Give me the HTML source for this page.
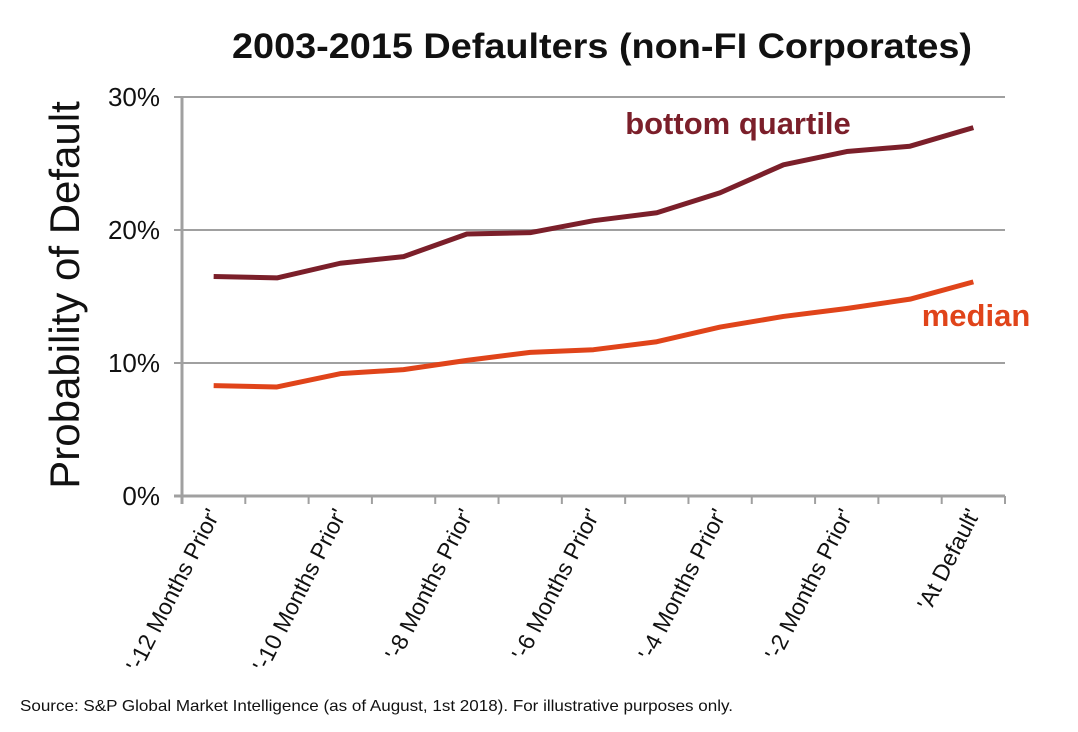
<!DOCTYPE html>
<html><head><meta charset="utf-8"><style>
body{margin:0;background:#fff;}
svg text{font-family:"Liberation Sans",sans-serif;}
</style></head><body>
<svg width="1078" height="727">
<text x="602" y="58" text-anchor="middle" font-size="35" font-weight="bold" fill="#111" textLength="740" lengthAdjust="spacingAndGlyphs">2003-2015 Defaulters (non-FI Corporates)</text>
<text transform="translate(79,295) rotate(-90)" text-anchor="middle" font-size="42" fill="#111">Probability of Default</text>
<g id="grid"></g><g id="lines"></g><g id="xl"></g>
<text x="738" y="134" text-anchor="middle" font-size="31" font-weight="bold" fill="#7b1f2a">bottom quartile</text>
<text x="976" y="326" text-anchor="middle" font-size="31" font-weight="bold" fill="#e0441a">median</text>
<text x="20" y="711" font-size="16" fill="#111" textLength="713" lengthAdjust="spacingAndGlyphs">Source: S&amp;P Global Market Intelligence (as of August, 1st 2018). For illustrative purposes only.</text>
</svg>
<script>
const categories=["'-12 Months Prior'","-11","'-10 Months Prior'","-9","'-8 Months Prior'","-7","'-6 Months Prior'","-5","'-4 Months Prior'","-3","'-2 Months Prior'","-1","'At Default'"];
const bottomQuartile=[16.5,16.4,17.5,18.0,19.7,19.8,20.7,21.3,22.8,24.9,25.9,26.3,27.7];
const median=[8.3,8.2,9.2,9.5,10.2,10.8,11.0,11.6,12.7,13.5,14.1,14.8,16.1];
const yTicks=[0,10,20,30];
const NS="http://www.w3.org/2000/svg";
const x0=182,x1=1005,y0=496,y1=97;
const bw=(x1-x0)/categories.length;
const X=i=>x0+bw*(i+0.5);
const Y=v=>y0-(v/30)*(y0-y1);
function mk(t,a,p){const e=document.createElementNS(NS,t);for(const k in a)e.setAttribute(k,a[k]);p.appendChild(e);return e;}
const grid=document.getElementById('grid');
yTicks.forEach(v=>{
 const l=mk('line',{x1:x0-8,x2:x1,y1:Y(v),y2:Y(v),stroke:'#a0a0a0','stroke-width':v===0?3:2},grid);
 
 
 const t=mk('text',{x:x0-22,y:Y(v)+9,'text-anchor':'end','font-size':26,fill:'#111'},grid);
 t.textContent=v+'%';
 
 
});
const ya=mk('line',{x1:x0,x2:x0,y1:y1,y2:y0+8,stroke:'#a0a0a0','stroke-width':3},grid);


for(let i=0;i<=categories.length;i++){
 const tk=mk('line',{x1:x0+bw*i,x2:x0+bw*i,y1:y0,y2:y0+8,stroke:'#a0a0a0','stroke-width':2},grid);
 
 
}
const lines=document.getElementById('lines');
[[bottomQuartile,'#7b1f2a','bottom-quartile-line'],[median,'#e0441a','median-line']].forEach(([d,c,n])=>{
 const p=mk('polyline',{points:d.map((v,i)=>X(i)+','+Y(v)).join(' '),fill:'none',stroke:c,'stroke-width':5,'stroke-linejoin':'round'},lines);
 
 
});
const xl=document.getElementById('xl');
categories.forEach((c,i)=>{
 if(i%2)return;
 const t=mk('text',{transform:`translate(${X(i)+7},${y0+18}) rotate(-63)`,'text-anchor':'end','font-size':23,fill:'#111'},xl);
 t.textContent=c;
 
 
});
</script>
</body></html>
